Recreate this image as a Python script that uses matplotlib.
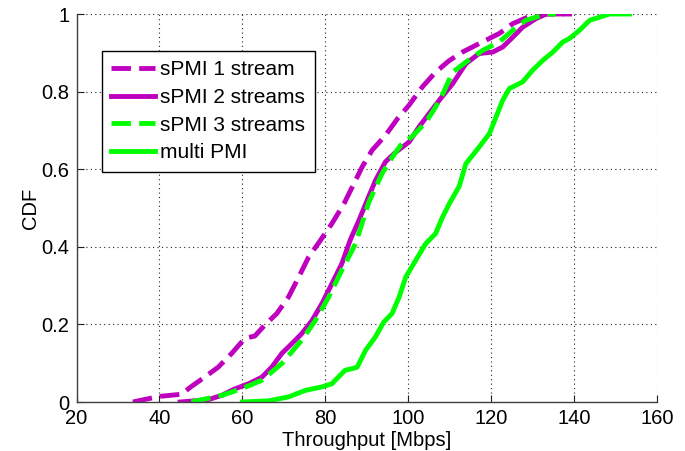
import matplotlib
matplotlib.use("Agg")
import matplotlib.pyplot as plt

plt.rcParams['font.family'] = ['Liberation Sans', 'DejaVu Sans']

# sPMI 1 stream
x1 = [33.6, 38, 40.5, 45.3, 47.7, 50.9, 54.2, 57.4, 60.6, 63, 65.4, 68.3, 71.1, 73.5, 76, 78.4,
      81.6, 84.5, 86.5, 88.9, 91.3, 94.5, 97.4, 100.2, 103.4, 106.6, 109.9, 113.1, 117.9, 122,
      125.2, 128.4, 130.8, 139.5]
y1 = [0, 0.01, 0.015, 0.02, 0.04, 0.064, 0.09, 0.125, 0.164, 0.17, 0.198, 0.228, 0.27, 0.32, 0.374, 0.41,
      0.46, 0.511, 0.554, 0.606, 0.649, 0.687, 0.73, 0.765, 0.812, 0.85, 0.88, 0.902, 0.928, 0.95,
      0.975, 0.99, 1.0, 1.0]

# sPMI 2 streams
x2 = [45, 51.8, 55, 58.2, 61.5, 64.7, 67.1, 69.5, 71.9, 74.3, 76.8, 79.2, 81.6, 84, 86, 88.1,
      90.1, 92.1, 94.5, 97, 100.2, 102.6, 105, 107.5, 110.7, 113.9, 117.1, 120.4, 122.8, 125.2,
      127.6, 130.8, 133.3, 137]
y2 = [0, 0.006, 0.017, 0.034, 0.047, 0.064, 0.09, 0.125, 0.15, 0.176, 0.21, 0.254, 0.305, 0.357, 0.417, 0.468,
      0.52, 0.571, 0.619, 0.644, 0.67, 0.709, 0.743, 0.778, 0.82, 0.872, 0.898, 0.902, 0.915, 0.94,
      0.966, 0.988, 1.0, 1.0]

# sPMI 3 streams
x3 = [47.7, 55, 60, 64.7, 69.5, 74.3, 77.6, 80.8, 84, 87.3, 90.5, 93.7, 96.1, 98.2, 101, 104.2,
      106.6, 108.6, 110.7, 113.9, 117.9, 122, 125.2, 128.4, 133.3, 135.6]
y3 = [0, 0.017, 0.035, 0.056, 0.099, 0.159, 0.21, 0.27, 0.34, 0.408, 0.515, 0.589, 0.63, 0.662, 0.685, 0.72,
      0.76, 0.8, 0.85, 0.876, 0.906, 0.928, 0.958, 0.984, 1.0, 1.0]

# multi PMI
x4 = [60, 66.3, 71.1, 75.2, 79.2, 81.6, 82.4, 84.8, 86.5, 87.7, 88.9, 89.7, 92.1, 94.1, 96.1, 97.8,
      99.4, 101.8, 104.2, 106.6, 108.3, 109.9, 112.3, 113.9, 117.1, 119.6, 121.2, 122.8, 124.4,
      127.6, 130, 132.5, 134.9, 137.3, 138.9, 141.3, 143.8, 146.2, 148.6, 153.4]
y4 = [0, 0.003, 0.013, 0.03, 0.039, 0.047, 0.056, 0.082, 0.086, 0.09, 0.116, 0.133, 0.168, 0.206, 0.228, 0.27,
      0.322, 0.365, 0.408, 0.434, 0.477, 0.511, 0.556, 0.614, 0.657, 0.692, 0.735, 0.778, 0.808,
      0.825, 0.855, 0.881, 0.902, 0.928, 0.937, 0.958, 0.984, 0.992, 1.0, 1.0]

labels = ['sPMI 1 stream', 'sPMI 2 streams', 'sPMI 3 streams', 'multi PMI']
xticks = [20, 40, 60, 80, 100, 120, 140, 160]
yticks = [0, 0.2, 0.4, 0.6, 0.8, 1]
ytick_labels = ['0', '0.2', '0.4', '0.6', '0.8', '1']

magenta = '#BF00BF'
green = '#00FF00'
lw = 3.5
dash = (4.0, 1.7)

fig = plt.figure(figsize=(6.85, 4.51), dpi=100)
ax = fig.add_axes([76.5/685, 1 - 402/451, (657-76.5)/685, (402-14)/451])

ax.plot(x1, y1, color=magenta, lw=lw, dashes=dash, label=labels[0])
ax.plot(x2, y2, color=magenta, lw=lw, label=labels[1])
ax.plot(x3, y3, color=green, lw=lw, dashes=dash, label=labels[2])
ax.plot(x4, y4, color=green, lw=lw, label=labels[3])

ax.set_xlim(20, 160)
ax.set_ylim(0, 1)
ax.set_xticks(xticks)
ax.set_yticks(yticks)
ax.set_yticklabels(ytick_labels)
ax.grid(True, linestyle=(0, (1, 3)), color='#222222', linewidth=0.8)
ax.set_axisbelow(True)
for s in ['top', 'right']:
    ax.spines[s].set_visible(False)
for s in ['left', 'bottom']:
    ax.spines[s].set_color('#404040')
    ax.spines[s].set_linewidth(1.0)
ax.tick_params(direction='in', length=5, width=0.8, labelsize=14.5, pad=5, color='#202020')
ax.set_xlabel('Throughput [Mbps]', fontsize=14.5, labelpad=2)
ax.set_ylabel('CDF', fontsize=14.5, labelpad=1)

leg = ax.legend(loc='upper left', bbox_to_anchor=(0.044, 0.905), borderaxespad=0,
                fontsize=15, frameon=True, fancybox=False, framealpha=1,
                edgecolor='black', handlelength=2.1, handletextpad=0.25,
                labelspacing=0.42, borderpad=0.45)
leg.get_frame().set_linewidth(1.0)

fig.savefig('out.png', dpi=100)
